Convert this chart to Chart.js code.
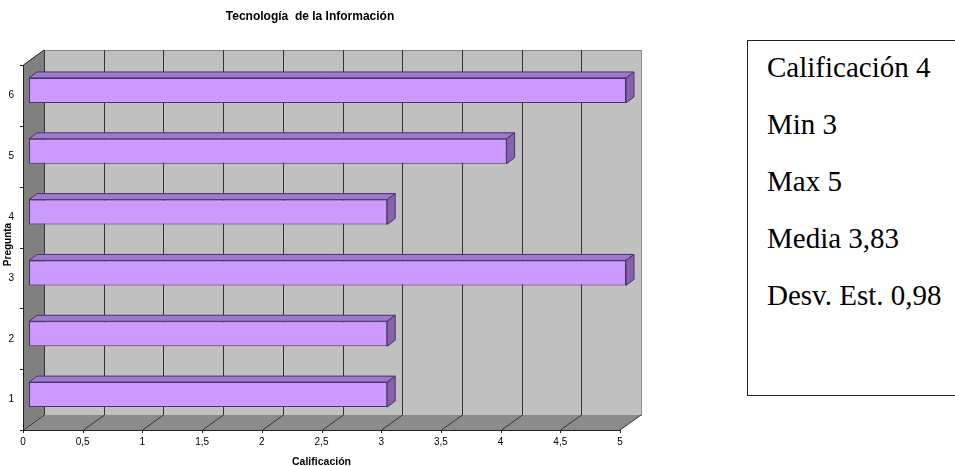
<!DOCTYPE html>
<html>
<head>
<meta charset="utf-8">
<script src="https://cdn.jsdelivr.net/npm/chart.js@4"></script>
<style>
  html, body { margin: 0; padding: 0; background: #fff; overflow: hidden; }
  #wrap { position: relative; width: 955px; height: 466px; }
  #chartBox { position: absolute; left: 0; top: 0; width: 700px; height: 466px; }
  #stats {
    position: absolute; left: 747px; top: 40px; width: 230px; height: 356px;
    border: 1px solid #222; box-sizing: border-box;
    font-family: "Liberation Serif", "Times New Roman", serif; font-size: 29px; line-height: 1; color: #000;
  }
  #stats div { position: absolute; left: 19px; white-space: nowrap; }
</style>
</head>
<body>
<div id="wrap">
  <div id="chartBox"><canvas id="chart"></canvas></div>
  <div id="stats"></div>
</div>
<script>
// data
const preguntas = ['1', '2', '3', '4', '5', '6'];
const calificaciones = [3, 3, 5, 3, 4, 5];
const statLabels = ['Calificación', 'Min', 'Max', 'Media', 'Desv. Est.'];
const statValues = ['4', '3', '5', '3,83', '0,98'];

// stats box
const stats = document.querySelector('#stats');
statLabels.forEach((label, i) => {
  const line = document.createElement('div');
  line.textContent = label + ' ' + statValues[i];
  line.style.top = (12 + i * 57) + 'px';
  stats.appendChild(line);
});

// 3d look: depth of the walls and of the bars
const DX = 21, DY = -15;
const BAR_OX = 6, BAR_OY = -5;
const BAR_DX = 8, BAR_DY = -6;

const box3d = {
  id: 'box3d',
  beforeDatasetsDraw(chart) {
    const { ctx, chartArea: a } = chart;
    const xs = chart.scales.x;
    ctx.save();
    // back wall
    ctx.fillStyle = '#c0c0c0';
    ctx.fillRect(a.left + DX, a.top + DY, a.right - a.left, a.bottom - a.top);
    ctx.strokeStyle = '#8a8a8a';
    ctx.lineWidth = 1;
    ctx.strokeRect(a.left + DX + 0.5, a.top + DY + 0.5, a.right - a.left, a.bottom - a.top);
    // left wall
    ctx.fillStyle = '#808080';
    ctx.beginPath();
    ctx.moveTo(a.left, a.top);
    ctx.lineTo(a.left + DX, a.top + DY);
    ctx.lineTo(a.left + DX, a.bottom + DY);
    ctx.lineTo(a.left, a.bottom);
    ctx.closePath();
    ctx.fill();
    // floor
    ctx.fillStyle = '#8c8c8c';
    ctx.beginPath();
    ctx.moveTo(a.left, a.bottom);
    ctx.lineTo(a.right, a.bottom);
    ctx.lineTo(a.right + DX, a.bottom + DY);
    ctx.lineTo(a.left + DX, a.bottom + DY);
    ctx.closePath();
    ctx.fill();
    // grid lines on back wall and floor
    ctx.strokeStyle = '#333';
    xs.ticks.forEach(t => {
      if (t.value <= 0 || t.value >= xs.max) return;
      const px = Math.round(xs.getPixelForValue(t.value)) + 0.5;
      ctx.beginPath();
      ctx.moveTo(px + DX, a.top + DY);
      ctx.lineTo(px + DX, a.bottom + DY);
      ctx.lineTo(px, a.bottom);
      ctx.stroke();
    });
    // edges
    ctx.beginPath();
    ctx.moveTo(a.left + DX + 0.5, a.top + DY);
    ctx.lineTo(a.left + DX + 0.5, a.bottom + DY);
    ctx.lineTo(a.left + 0.5, a.bottom);
    ctx.moveTo(a.right + DX, a.bottom + DY);
    ctx.lineTo(a.right, a.bottom);
    ctx.stroke();
    ctx.strokeStyle = '#222';
    ctx.beginPath();
    ctx.moveTo(a.left + DX, a.top + DY);
    ctx.lineTo(a.left + 0.5, a.top);
    ctx.lineTo(a.left + 0.5, a.bottom + 0.5);
    ctx.lineTo(a.right, a.bottom + 0.5);
    // category ticks on the front edge
    const step = (a.bottom - a.top) / preguntas.length;
    for (let i = 0; i <= preguntas.length; i++) {
      const py = Math.round(a.top + i * step) + 0.5;
      ctx.moveTo(a.left - 3, py);
      ctx.lineTo(a.left, py);
    }
    // value ticks under the front edge
    xs.ticks.forEach(t => {
      const px = Math.round(xs.getPixelForValue(t.value)) + 0.5;
      ctx.moveTo(px, a.bottom);
      ctx.lineTo(px, a.bottom + 3);
    });
    ctx.stroke();
    // y axis title over the tick labels
    ctx.fillStyle = '#000';
    ctx.font = 'bold 10px "Liberation Sans", Arial, sans-serif';
    ctx.textAlign = 'center';
    ctx.textBaseline = 'middle';
    ctx.translate(8, (a.top + a.bottom) / 2 - 3);
    ctx.rotate(-Math.PI / 2);
    ctx.fillText('Pregunta', 0, 0);
    ctx.restore();
    // bars are drawn a little behind the front plane
    ctx.save();
    ctx.translate(BAR_OX, BAR_OY);
  },
  afterDatasetsDraw(chart) {
    const { ctx } = chart;
    ctx.restore();
    const meta = chart.getDatasetMeta(0);
    ctx.save();
    ctx.lineWidth = 1;
    ctx.strokeStyle = '#4a3366';
    meta.data.forEach(bar => {
      const { x, y, base, height } = bar.getProps(['x', 'y', 'base', 'height'], true);
      const l = base + BAR_OX, r = x + BAR_OX;
      const t = y - height / 2 + BAR_OY, b = y + height / 2 + BAR_OY;
      // top face
      ctx.fillStyle = '#9e79cc';
      ctx.beginPath();
      ctx.moveTo(l, t);
      ctx.lineTo(l + BAR_DX, t + BAR_DY);
      ctx.lineTo(r + BAR_DX, t + BAR_DY);
      ctx.lineTo(r, t);
      ctx.closePath();
      ctx.fill();
      ctx.stroke();
      // side face
      ctx.fillStyle = '#8563aa';
      ctx.beginPath();
      ctx.moveTo(r, t);
      ctx.lineTo(r + BAR_DX, t + BAR_DY);
      ctx.lineTo(r + BAR_DX, b + BAR_DY);
      ctx.lineTo(r, b);
      ctx.closePath();
      ctx.fill();
      ctx.stroke();
    });
    ctx.restore();
  }
};

const tickFont = { family: '"Liberation Sans", Arial, sans-serif', size: 10 };

new Chart(document.getElementById('chart').getContext('2d'), {
  type: 'bar',
  data: {
    labels: preguntas,
    datasets: [{
      data: calificaciones,
      backgroundColor: '#cc99ff',
      borderColor: '#4a3366',
      borderWidth: 1,
      borderSkipped: false,
      barPercentage: 0.41,
      categoryPercentage: 1,
      clip: false
    }]
  },
  options: {
    indexAxis: 'y',
    responsive: true,
    maintainAspectRatio: false,
    animation: false,
    layout: { padding: { left: 0, right: 80, top: 0, bottom: 0 } },
    plugins: {
      legend: { display: false },
      tooltip: { enabled: false },
      title: {
        display: true,
        text: 'Tecnología  de la Información',
        color: '#000',
        font: { family: '"Liberation Sans", Arial, sans-serif', size: 12, weight: 'bold' },
        padding: { top: 9, bottom: 41.6 }
      }
    },
    scales: {
      x: {
        min: 0,
        max: 5,
        ticks: {
          stepSize: 0.5,
          color: '#000',
          font: tickFont,
          padding: 6,
          maxRotation: 0,
          callback: v => String(v).replace('.', ',')
        },
        grid: { display: false, drawTicks: false },
        border: { display: false },
        title: {
          display: true,
          text: 'Calificación',
          color: '#000',
          font: { family: '"Liberation Sans", Arial, sans-serif', size: 10.5, weight: 'bold' },
          padding: { top: 0, bottom: -2 }
        },
        afterFit: s => { s.height = 36; }
      },
      y: {
        reverse: true,
        ticks: { color: '#000', font: tickFont, padding: 9 },
        grid: { display: false, drawTicks: false },
        border: { display: false },
        afterFit: s => { s.width = 23; }
      }
    }
  },
  plugins: [box3d]
});
</script>
</body>
</html>
